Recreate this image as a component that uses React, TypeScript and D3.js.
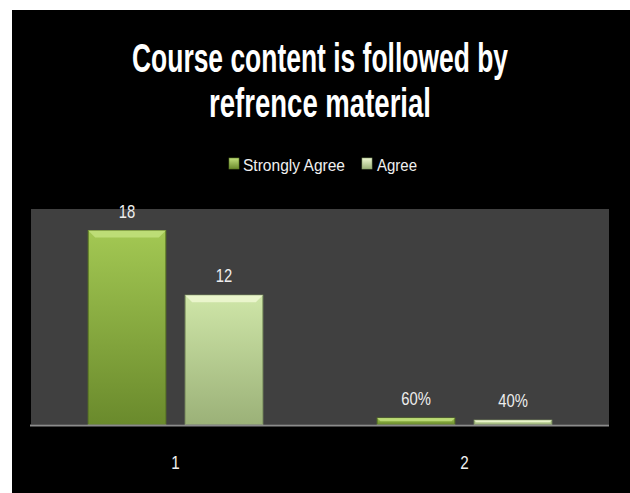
import React from "react";
import * as d3 from "d3";

const categories = ["1", "2"];
const seriesNames = ["Strongly Agree", "Agree"];
const strongAgreeValues = [18, 0.6];
const agreeValues = [12, 0.4];
const valueLabels = [["18", "12"], ["60%", "40%"]];
const titleLines = ["Course content is followed by", "refrence material"];

const W = 630;
const H = 493;
const FONT = "'Liberation Sans Narrow', 'Liberation Sans', Arial, sans-serif";

const palettes = [
  { top: "#a3c853", bottom: "#6a8a2c", bevel: "#c2e07c", edge: "#5c7a24" },
  { top: "#cfe6a8", bottom: "#9bb178", bevel: "#eef8d2", edge: "#889e68" },
];

function NarrowText(props: { x: number; y: number; size: number; sx: number; children: any; fill?: string }) {
  return (
    <text
      transform={`translate(${props.x},${props.y}) scale(${props.sx},1)`}
      textAnchor="middle"
      fill={props.fill || "#eeeeee"}
      fontFamily={FONT}
      fontSize={props.size}
    >
      {props.children}
    </text>
  );
}

export default function App() {
  const plot = { left: 31, right: 609, top: 209, bottom: 424.5 };
  const x0 = d3.scaleBand<string>().domain(categories).range([plot.left, plot.right]);
  const x1 = d3
    .scaleBand<string>()
    .domain(seriesNames)
    .range([0, x0.bandwidth()])
    .paddingInner(0.2)
    .paddingOuter(0.59);
  const y = d3.scaleLinear().domain([0, 20]).range([plot.bottom, plot.top]);
  const seriesValues = [strongAgreeValues, agreeValues];

  const bars: any[] = [];
  categories.forEach((c, ci) => {
    seriesNames.forEach((s, si) => {
      const v = seriesValues[si][ci];
      const bx = (x0(c) as number) + (x1(s) as number);
      const bw = x1.bandwidth();
      const by = y(v);
      const bh = y(0) - by;
      bars.push({ key: c + s, bx, bw, by, bh, si, label: valueLabels[ci][si] });
    });
  });

  return (
    <svg
      width={W}
      height={H}
      style={{ position: "absolute", left: 0, top: 0 }}
      xmlns="http://www.w3.org/2000/svg"
    >
      <defs>
        {palettes.map((p, i) => (
          <linearGradient key={i} id={"g" + i} x1="0" y1="0" x2="0" y2="1">
            <stop offset="0%" stopColor={p.top} />
            <stop offset="100%" stopColor={p.bottom} />
          </linearGradient>
        ))}
        {palettes.map((p, i) => (
          <linearGradient key={"l" + i} id={"lg" + i} x1="0" y1="0" x2="0" y2="1">
            <stop offset="0%" stopColor={p.bevel} />
            <stop offset="100%" stopColor={p.bottom} />
          </linearGradient>
        ))}
      </defs>
      <rect x={0} y={0} width={W} height={H} fill="#ffffff" />
      <rect x={12} y={10} width={W - 12} height={H - 10} fill="#000000" />

      {titleLines.map((t, i) => (
        <text
          key={i}
          x={320}
          y={i === 0 ? 72 : 117}
          textAnchor="middle"
          fill="#ffffff"
          fontFamily={FONT}
          fontWeight="bold"
          fontSize={41}
          textLength={i === 0 ? 376 : 222}
          lengthAdjust="spacingAndGlyphs"
        >
          {t}
        </text>
      ))}

      {/* legend */}
      {[
        { mx: 229, tx: 243, tl: 102 },
        { mx: 362, tx: 377, tl: 40 },
      ].map((l, i) => (
        <g key={i}>
          <rect x={l.mx} y={158} width={10} height={11} fill={`url(#lg${i})`} stroke={palettes[i].edge} strokeWidth={0.6} />
          <text
            x={l.tx}
            y={170.5}
            fill="#f0f0f0"
            fontFamily={FONT}
            fontSize={16.5}
            textLength={l.tl}
            lengthAdjust="spacingAndGlyphs"
          >
            {seriesNames[i]}
          </text>
        </g>
      ))}

      {/* plot area */}
      <rect
        x={plot.left}
        y={plot.top}
        width={plot.right - plot.left}
        height={plot.bottom - plot.top}
        fill="#404040"
      />

      {bars.map((b) => {
        const p = palettes[b.si];
        const bev = Math.min(7, b.bh / 2);
        return (
          <g key={b.key}>
            <rect x={b.bx} y={b.by} width={b.bw} height={b.bh} fill={`url(#g${b.si})`} stroke={p.edge} strokeWidth={1} />
            <polygon
              points={`${b.bx},${b.by} ${b.bx + b.bw},${b.by} ${b.bx + b.bw - bev},${b.by + bev} ${b.bx + bev},${b.by + bev}`}
              fill={p.bevel}
              opacity={0.85}
            />
            <NarrowText x={b.bx + b.bw / 2} y={b.by - 13} size={18.5} sx={0.8}>
              {b.label}
            </NarrowText>
          </g>
        );
      })}

      {/* axis line */}
      <line x1={30} x2={plot.right} y1={425.5} y2={425.5} stroke="#8c8c8c" strokeWidth={2} />

      {categories.map((c) => (
        <NarrowText key={c} x={(x0(c) as number) + x0.bandwidth() / 2} y={469} size={19} sx={0.8} fill="#f0f0f0">
          {c}
        </NarrowText>
      ))}
    </svg>
  );
}
